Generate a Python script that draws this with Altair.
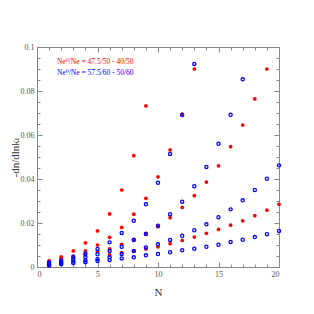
import altair as alt
import pandas as pd

# Red series (Ne0/Ne = 47.5/50 - 40/50): each curve starts at the given N
red_start = [1, 2, 4, 6]
red_curves = [
    [0.0029, 0.0046, 0.0073, 0.0110, 0.0164, 0.0241, 0.0350, 0.0506, 0.0732],
    [0.0040, 0.0050, 0.0073, 0.0100, 0.0135, 0.0180, 0.0240, 0.0312, 0.0410, 0.0532, 0.0695, 0.0900],
    [0.0055, 0.0070, 0.0082, 0.0103, 0.0126, 0.0153, 0.0183, 0.0224, 0.0271, 0.0324, 0.0386, 0.0460,
     0.0547, 0.0645, 0.0764, 0.0900],
    [0.0055, 0.0065, 0.0073, 0.0082, 0.0092, 0.0106, 0.0121, 0.0136, 0.0153, 0.0171, 0.0190, 0.0210,
     0.0233, 0.0258, 0.0285],
]

# Blue series (Ne0/Ne = 57.5/60 - 50/60)
blue_start = [1, 1, 1, 1]
blue_curves = [
    [0.0020, 0.0030, 0.0045, 0.0060, 0.0082, 0.0112, 0.0155, 0.0210, 0.0285, 0.0383, 0.0514, 0.0691, 0.0923],
    [0.0015, 0.0024, 0.0035, 0.0045, 0.0058, 0.0073, 0.0092, 0.0123, 0.0150, 0.0188, 0.0240, 0.0297,
     0.0367, 0.0455, 0.0560, 0.0692, 0.0853],
    [0.0010, 0.0017, 0.0025, 0.0030, 0.0035, 0.0044, 0.0059, 0.0073, 0.0089, 0.0103, 0.0123, 0.0142,
     0.0167, 0.0194, 0.0226, 0.0262, 0.0303, 0.0350, 0.0401, 0.0462],
    [0.0007, 0.0013, 0.0018, 0.0022, 0.0027, 0.0032, 0.0039, 0.0044, 0.0053, 0.0059, 0.0067, 0.0076,
     0.0083, 0.0092, 0.0101, 0.0114, 0.0124, 0.0136, 0.0149, 0.0164],
]

legend_labels = ["Ne\u2070/Ne = 47.5/50 - 40/50", "Ne\u2070/Ne = 57.5/60 - 50/60"]
legend_colors = ["#ff0000", "#0000ff"]
legend_x = [1.65, 1.65]
legend_y = [0.0932, 0.0882]

x_major = [0, 5, 10, 15, 20]
x_minor = [v for v in range(1, 20) if v % 5 != 0]
y_major = [0, 0.02, 0.04, 0.06, 0.08, 0.1]
y_minor = [0.005, 0.01, 0.015, 0.025, 0.03, 0.035, 0.045, 0.05, 0.055,
           0.065, 0.07, 0.075, 0.085, 0.09, 0.095]


def build(starts, curves):
    rows = []
    for s, c in zip(starts, curves):
        for i, v in enumerate(c):
            rows.append({"N": s + i, "v": v})
    return pd.DataFrame(rows)


red_df = build(red_start, red_curves)
blue_df = build(blue_start, blue_curves)
leg_df = pd.DataFrame({"x": legend_x, "y": legend_y, "t": legend_labels, "c": legend_colors})

FONT = "Liberation Serif, DejaVu Serif, serif"
GREY = "#888888"
xs = alt.Scale(domain=[0, 20], nice=False, zero=False)
ys = alt.Scale(domain=[0, 0.1], nice=False, zero=False)

common = dict(domainColor=GREY, tickColor=GREY, grid=False, labelFont=FONT,
              labelColor="#555555", labelFontSize=8, titleFont=FONT,
              titleFontSize=11, titleColor="#333333", titleFontWeight="normal")


def ax(orient, values, major, labels=False, title=None):
    kw = dict(common)
    kw.update(orient=orient, values=values,
              tickSize={"expr": "-5" if major else "-3"},
              labels=labels)
    if labels:
        kw.update(labelPadding=8, format="~g")
    if title is not None:
        kw.update(title=title, titlePadding=(8 if orient == "bottom" else 0))
    else:
        kw.update(title=None)
    return alt.Axis(**kw)


red = alt.Chart(red_df).mark_circle(size=14, color="#ff0000", opacity=1).encode(
    x=alt.X("N:Q", scale=xs, axis=ax("bottom", x_major, True, True, "N")),
    y=alt.Y("v:Q", scale=ys, axis=ax("left", y_major, True, True, "-dn/dlnk\u2097")),
)

blue = alt.Chart(blue_df).mark_point(size=10, color="#0000ff", filled=False,
                                     strokeWidth=1.3, opacity=1).encode(
    x=alt.X("N:Q", scale=xs, axis=ax("bottom", x_minor, False)),
    y=alt.Y("v:Q", scale=ys, axis=ax("left", y_minor, False)),
)

leg1 = alt.Chart(leg_df.iloc[[0]]).mark_text(align="left", baseline="middle",
                                             font=FONT, fontSize=7.5).encode(
    x=alt.X("x:Q", scale=xs, axis=ax("top", x_major, True)),
    y=alt.Y("y:Q", scale=ys, axis=ax("right", y_major, True)),
    text="t:N",
    color=alt.Color("c:N", scale=None),
)

leg2 = alt.Chart(leg_df.iloc[[1]]).mark_text(align="left", baseline="middle",
                                             font=FONT, fontSize=7.5).encode(
    x=alt.X("x:Q", scale=xs, axis=ax("top", x_minor, False)),
    y=alt.Y("y:Q", scale=ys, axis=ax("right", y_minor, False)),
    text="t:N",
    color=alt.Color("c:N", scale=None),
)

chart = alt.layer(red, blue, leg1, leg2).resolve_axis(
    x="independent", y="independent"
).properties(
    width=242, height=220,
    autosize=alt.AutoSizeParams(type="none"),
    padding={"left": 29, "top": 39, "right": 27, "bottom": 39},
    background="white",
).configure_view(stroke=GREY)

chart.save("out.html", embed_options={"renderer": "svg", "actions": False})
